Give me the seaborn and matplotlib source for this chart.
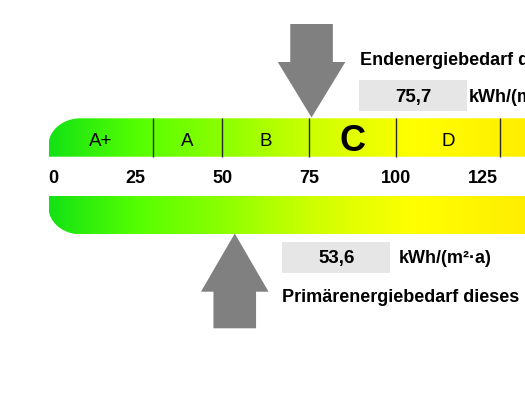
import numpy as np
import matplotlib
matplotlib.use("Agg")
import matplotlib.pyplot as plt
from matplotlib.patches import Polygon, Rectangle
from matplotlib.colors import LinearSegmentedColormap
import seaborn as sns

# ---- data ----
class_bounds = [0, 30, 50, 75, 100, 130, 160, 200, 250, 300]
class_labels = ["A+", "A", "B", "C", "D", "E", "F", "G", "H"]
current_class = "C"
tick_values = [0, 25, 50, 75, 100, 125, 150]
end_energy = 75.7
primary_energy = 53.6
end_label = "Endenergiebedarf dieses Gebäudes"
primary_label = "Primärenergiebedarf dieses Gebäudes"
unit_label = "kWh/(m²·a)"
grad_stops = [0, 25, 50, 75, 105, 135, 160]
grad_colors = ["#14e214", "#55ff00", "#8cff00", "#ccff00", "#ffff00", "#ffef00", "#ffe000"]

sns.set_theme(style="white")
plt.rcParams["font.family"] = ["Liberation Sans", "DejaVu Sans"]
plt.rcParams["text.color"] = "black"

W, H = 525, 394
fig = plt.figure(figsize=(W / 100, H / 100), dpi=100)
ax = fig.add_axes([0, 0, 1, 1])
x0px, scale = 48.5, 3.475
xmin_v, xmax_v = -x0px / scale, (W - x0px) / scale
ax.set_xlim(xmin_v, xmax_v)
ax.set_ylim(H, 0)
ax.axis("off")

vmax = class_bounds[-1]
blend = sns.blend_palette(grad_colors, n_colors=len(grad_colors))
cmap = LinearSegmentedColormap.from_list(
    "energy", [(s / grad_stops[-1], c) for s, c in zip(grad_stops, blend)])
grad = np.linspace(0, 1, 600).reshape(1, -1)

rx, ry = 32 / scale, 27
theta = np.linspace(np.pi, np.pi / 2, 30)

def bar(top, bot, corner):
    if corner == "top":
        cx, cy = rx, top + ry
        arc = [(cx + rx * np.cos(t), cy - ry * np.sin(t)) for t in theta]
        pts = [(0, bot)] + arc + [(vmax, top), (vmax, bot)]
    else:
        cx, cy = rx, bot - ry
        arc = [(cx + rx * np.cos(t), cy + ry * np.sin(t)) for t in theta]
        pts = [(0, top)] + arc + [(vmax, bot), (vmax, top)]
    poly = Polygon(pts, closed=True, facecolor="none", edgecolor="none",
                   transform=ax.transData)
    ax.add_patch(poly)
    im = ax.imshow(grad, cmap=cmap, aspect="auto", interpolation="bilinear",
                   extent=[0, grad_stops[-1], bot, top], zorder=1)
    im.set_clip_path(poly)

top1, bot1 = 118.3, 156.7
top2, bot2 = 196.0, 234.3
bar(top1, bot1, "top")
bar(top2, bot2, "bottom")
ax.set_xlim(xmin_v, xmax_v)
ax.set_ylim(H, 0)

# class separators and labels (only those within view)
ax.vlines([b for b in class_bounds[1:-1] if b < xmax_v], top1, bot1,
          color="#2a2a2a", lw=1.0, zorder=2)
for lo, hi, lab in zip(class_bounds[:-1], class_bounds[1:], class_labels):
    mid = (lo + hi) / 2
    if mid > xmax_v:
        continue
    if lab == current_class:
        ax.text(mid, 151, lab, ha="center", va="baseline", fontsize=26,
                fontweight="bold", color="black", zorder=3)
    else:
        ax.text(mid, 145.7, lab, ha="center", va="baseline", fontsize=13.5,
                color="black", zorder=3)

# tick labels
for v in tick_values:
    if v > xmax_v:
        continue
    ax.text(v, 183.3, str(v), ha="left" if v == 0 else "center", va="baseline",
            fontsize=13, fontweight="bold", color="black")

# arrows
acol = "#808080"
sw, hw = 21.3 / scale, 33.8 / scale

def arrow(v, tip, base, end):
    pts = [(v, tip), (v - hw, base), (v - sw, base), (v - sw, end),
           (v + sw, end), (v + sw, base), (v + hw, base)]
    ax.add_patch(Polygon(pts, closed=True, facecolor=acol, edgecolor="none", zorder=4))

arrow(end_energy, 117.5, 62, 24)
arrow(primary_energy, 233.5, 291.7, 328.3)

def px(x):
    return (x - x0px) / scale

# top value box + text
ax.add_patch(Rectangle((px(359.3), 80), px(466.7) - px(359.3), 30.7,
                       facecolor="#e6e6e6", edgecolor="none"))
ax.text(px(413.5), 101.7, f"{end_energy:.1f}".replace(".", ","), ha="center",
        va="baseline", fontsize=13.5, fontweight="bold", color="black")
ax.text(px(469), 101.7, unit_label, ha="left", va="baseline", fontsize=13,
        fontweight="bold", color="black")
ax.text(px(360.5), 65, end_label, ha="left", va="baseline", fontsize=13,
        fontweight="bold", color="black")

# bottom value box + text
ax.add_patch(Rectangle((px(281.7), 242.3), px(390) - px(281.7), 30.4,
                       facecolor="#e6e6e6", edgecolor="none"))
ax.text(px(336.5), 263.3, f"{primary_energy:.1f}".replace(".", ","), ha="center",
        va="baseline", fontsize=13.5, fontweight="bold", color="black")
ax.text(px(399), 263.3, unit_label, ha="left", va="baseline", fontsize=13,
        fontweight="bold", color="black")
ax.text(px(282.5), 301.7, primary_label, ha="left", va="baseline", fontsize=13,
        fontweight="bold", color="black")

fig.savefig("out.png", dpi=100)
